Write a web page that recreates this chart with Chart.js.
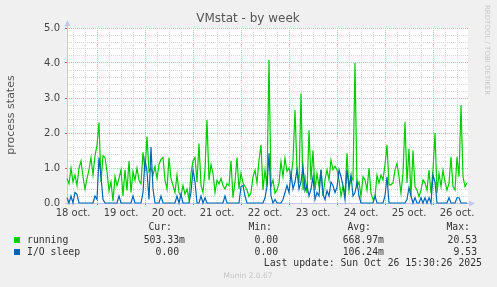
<!DOCTYPE html>
<html>
<head>
<meta charset="utf-8">
<script src="https://cdn.jsdelivr.net/npm/chart.js@4.4.1/dist/chart.umd.min.js"></script>
<style>
  html, body { margin: 0; padding: 0; background: #f0f0f0; }
  canvas { display: block; }
</style>
</head>
<body>
<canvas id="chart" width="497" height="287"></canvas>
<script>
// dati: un punto ogni ora, a partire dalle 09:00 del 18 ott.
const startHour = 9;
const dayLabels = ['18 oct.', '19 oct.', '20 oct.', '21 oct.', '22 oct.', '23 oct.', '24 oct.', '25 oct.', '26 oct.'];

const running = [
  0.7, 0.55, 1.0, 0.6, 0.8, 0.5, 1.0, 1.2, 0.75, 0.4,
  0.7, 0.95, 1.3, 0.8, 1.35, 1.65, 2.3, 0.6, 1.35, 1.3,
  0.9, 0.35, 0.6, 0.05, 0.75, 0.5, 0.7, 0.95, 0.2, 0.95,
  0.35, 1.2, 0.3, 0.9, 0.65, 1.0, 0.65, 0.55, 1.45, 0.9,
  1.9, 0.9, 1.0, 0.8, 1.05, 0.7, 1.1, 1.25, 1.3, 0.65,
  0.4, 1.3, 0.7, 0.5, 0.3, 0.8, 0.3, 0.2, 0.5, 0.25,
  0.4, 0.1, 0.85, 1.2, 1.3, 0.6, 1.7, 0.5, 0.3, 0.95,
  2.37, 0.65, 1.1, 0.85, 0.3, 0.65, 0.55, 0.7, 0.5, 0.4,
  0.55, 0.5, 1.2, 0.15, 0.6, 1.3, 0.4, 0.85, 0.57, 0.47,
  0.37, 0.18, 0.3, 0.75, 0.94, 0.57, 1.23, 1.66, 0.37, 0.94,
  0.47, 4.09, 0.47, 0.66, 0.28, 0.37, 0.57, 1.18, 0.75, 1.28,
  0.9, 1.0, 0.7, 1.23, 2.66, 0.94, 0.57, 3.13, 0.37, 0.75,
  0.28, 2.08, 0.66, 1.5, 0.37, 0.85, 0.47, 0.95, 0.2, 0.66,
  0.95, 0.66, 1.23, 0.95, 1.05, 0.95, 0.66, 0.2, 0.47, 0.28,
  1.42, 0.37, 0.75, 0.66, 4.0, 0.47, 0.6, 0.18, 0.75, 0.66,
  0.37, 1.0, 0.28, 0.1, 0.18, 0.8, 0.57, 0.8, 0.66, 1.1,
  1.66, 0.52, 0.52, 0.57, 0.94, 1.13, 0.75, 0.28, 0.85, 2.32,
  0.57, 1.55, 0.18, 1.5, 0.47, 0.37, 0.18, 0.37, 0.66, 0.57,
  0.37, 0.94, 0.28, 0.94, 2.0, 0.28, 0.85, 0.47, 0.94, 0.6,
  0.37, 0.57, 1.32, 0.47, 0.37, 1.32, 0.75, 2.8, 0.75, 0.47, 0.57
];

const ioSleep = [
  0.15, 0, 0.2, 0, 0.3, 0.25, 0, 0, 0, 0,
  0, 0, 0, 0, 0.2, 0.1, 1.3, 0.75, 0.1, 0,
  0, 0, 0, 0, 0, 0, 0.2, 0, 0, 0,
  0, 0, 0, 0.2, 0, 0, 0, 0, 0.3, 1.23,
  0.9, 0.1, 1.6, 0.4, 0, 0, 0, 0.2, 0, 0,
  0, 0, 0, 0, 0, 0.2, 0, 0.25, 0, 0,
  0, 0, 0.3, 0.95, 0.6, 0, 0, 0.2, 0, 0.15,
  0, 0, 0, 0, 0, 0, 0, 0, 0, 0.2,
  0, 0, 0, 0, 0, 0, 0, 0.47, 0.5, 0.2,
  0, 0, 0, 0, 0, 0, 0, 0, 0, 0.15,
  0.47, 1.42, 0.2, 0, 0.1, 0, 0, 0, 0.1, 0.3,
  0.5, 0.3, 0.85, 0.4, 0.6, 0.95, 0.4, 0.6, 1.04, 0.35,
  0.5, 0.2, 0.4, 0.75, 0.1, 0.3, 0.2, 0.95, 0.25, 0.1,
  0.35, 0.2, 0.6, 0.5, 0.3, 0.45, 0.95, 0.75, 0.5, 0.1,
  0.95, 0.45, 0.8, 0.2, 0.3, 0.6, 0.2, 0, 0, 0,
  0, 0, 0, 0, 0.2, 0, 0, 0, 0, 0.2,
  0.75, 0, 0, 0, 0, 0, 0, 0, 0, 0,
  0.1, 0.45, 0.2, 0, 0.15, 0, 0, 0.15, 0, 0.15,
  0, 0.15, 0, 0.8, 0.6, 0, 0, 0, 0, 0,
  0, 0.15, 0, 0, 0, 0.15, 0.15, 0, 0, 0, 0
];

// legenda
const legendNames = ['running', 'I/O sleep'];
const legendColors = ['#00CC00', '#0066B3'];
const curValues = ['503.33m', '0.00'];
const minValues = ['0.00', '0.00'];
const avgValues = ['668.97m', '106.24m'];
const maxValues = ['20.53', '9.53'];
const lastUpdate = 'Last update: Sun Oct 26 15:30:26 2025';

const RED_GRID = '#EDA8A8';
const GRAY_GRID = '#D6D6D6';
const AXIS = '#C4C8F0';

// griglia x ogni 6 ore, linee rosse a mezzanotte, etichette a mezzogiorno
const xGrid = [];
for (let h = 12; h <= 204; h += 6) xGrid.push(h);
const yGrid = [];
for (let k = 0; k <= 25; k++) yGrid.push(k / 5);

function isInt(v) { return Math.abs(v - Math.round(v)) < 1e-6; }

// FUNZIONE CHE DISEGNA TESTI, ASSI E LEGENDA ALLA MANIERA DI MUNIN
const muninDecor = {
  id: 'muninDecor',
  beforeDraw(chart) {
    const a = chart.chartArea;
    const c = chart.ctx;
    c.save();
    c.fillStyle = '#ffffff';
    c.fillRect(a.left, a.top, a.right - a.left, a.bottom - a.top);
    c.restore();
  },
  beforeDatasetsDraw(chart) {
    const a = chart.chartArea;
    const c = chart.ctx;
    c.save();
    c.strokeStyle = AXIS;
    c.fillStyle = AXIS;
    c.lineWidth = 1;
    c.beginPath();
    c.moveTo(a.left + 0.5, a.bottom + 2);
    c.lineTo(a.left + 0.5, a.top - 6);
    c.moveTo(a.left - 2, a.bottom + 0.5);
    c.lineTo(a.right + 2, a.bottom + 0.5);
    c.stroke();
    // frecce
    c.beginPath();
    c.moveTo(a.left - 2.5, a.top - 2);
    c.lineTo(a.left + 3.5, a.top - 2);
    c.lineTo(a.left + 0.5, a.top - 8);
    c.closePath();
    c.fill();
    c.beginPath();
    c.moveTo(a.right + 1, a.bottom - 2.5);
    c.lineTo(a.right + 1, a.bottom + 3.5);
    c.lineTo(a.right + 7, a.bottom + 0.5);
    c.closePath();
    c.fill();
    c.restore();
  },
  afterDraw(chart) {
    const c = chart.ctx;
    c.save();
    // titolo
    c.fillStyle = '#555555';
    c.font = '12px "DejaVu Sans"';
    c.textAlign = 'center';
    c.textBaseline = 'middle';
    c.fillText('VMstat - by week', 248, 19);

    // etichetta asse y
    c.save();
    c.translate(11, 115);
    c.rotate(-Math.PI / 2);
    c.font = '11px "DejaVu Sans"';
    c.fillText('process states', 0, 0);
    c.restore();

    // scritta verticale a destra
    c.save();
    c.translate(487, 5);
    c.rotate(Math.PI / 2);
    c.font = '7px "DejaVu Sans"';
    c.fillStyle = '#C8C8C8';
    c.textAlign = 'left';
    c.fillText('RRDTOOL / TOBI OETIKER', 0, 0);
    c.restore();

    // legenda
    c.font = '9.8px "DejaVu Sans Mono"';
    c.fillStyle = '#333333';
    c.textAlign = 'right';
    c.fillText('Cur:', 172, 227);
    c.fillText('Min:', 272, 227);
    c.fillText('Avg:', 371, 227);
    c.fillText('Max:', 470, 227);
    function val(s) { return s.endsWith('m') ? s : s + ' '; }
    legendNames.forEach((name, i) => {
      const y = 240 + i * 12;
      c.fillStyle = legendColors[i];
      c.fillRect(14, y - 3, 6, 6);
      c.fillStyle = '#333333';
      c.textAlign = 'left';
      c.fillText(name, 27, y);
      c.textAlign = 'right';
      c.fillText(val(curValues[i]), 185, y);
      c.fillText(val(minValues[i]), 284, y);
      c.fillText(val(avgValues[i]), 384, y);
      c.fillText(val(maxValues[i]), 483, y);
    });
    c.fillText(lastUpdate, 482, 263.5);

    c.textAlign = 'center';
    c.fillStyle = '#C4C4C4';
    c.font = '7.5px "DejaVu Sans"';
    c.fillText('Munin 2.0.67', 248, 276);
    c.restore();
  }
};

let ctx = document.getElementById('chart');

const myChart = new Chart(ctx, {
  type: 'line',
  data: {
    datasets: [{
      label: 'running',
      data: running.map((v, i) => ({ x: startHour + i, y: v })),
      borderColor: '#00CC00',
      borderWidth: 1.2,
      pointRadius: 0,
      tension: 0,
      order: 1
    }, {
      label: 'I/O sleep',
      data: ioSleep.map((v, i) => ({ x: startHour + i, y: v })),
      borderColor: '#0066B3',
      borderWidth: 1.2,
      pointRadius: 0,
      tension: 0,
      order: 0
    }]
  },
  options: {
    responsive: false,
    animation: false,
    devicePixelRatio: 1,
    clip: 3,
    layout: { padding: { left: 0, right: 29, top: 28, bottom: 0 } },
    plugins: { legend: { display: false }, tooltip: { enabled: false } },
    scales: {
      x: {
        type: 'linear',
        min: startHour,
        max: startHour + 200.5,
        afterFit(s) { s.height = 84; },
        afterBuildTicks(s) { s.ticks = xGrid.map(v => ({ value: v })); },
        grid: {
          color: c => (c.tick && c.tick.value % 24 === 0) ? RED_GRID : GRAY_GRID,
          tickColor: c => (c.tick && c.tick.value % 24 === 0) ? '#E06060' : 'transparent',
          tickLength: 2,
          lineWidth: 1
        },
        border: { display: false, dash: [1, 1] },
        ticks: {
          autoSkip: false,
          maxRotation: 0,
          padding: 2,
          color: '#444444',
          font: { family: 'DejaVu Sans', size: 10 },
          callback: v => (v % 24 === 12) ? dayLabels[Math.floor(v / 24)] : ''
        }
      },
      y: {
        min: 0,
        max: 5,
        afterFit(s) { s.width = 67; },
        afterBuildTicks(s) { s.ticks = yGrid.map(v => ({ value: v })); },
        grid: {
          color: c => (c.tick && isInt(c.tick.value)) ? RED_GRID : GRAY_GRID,
          tickColor: c => (c.tick && isInt(c.tick.value)) ? '#E06060' : 'transparent',
          tickLength: 2,
          lineWidth: 1
        },
        border: { display: false, dash: [1, 1] },
        ticks: {
          autoSkip: false,
          padding: 5,
          color: '#444444',
          font: { family: 'DejaVu Sans', size: 10 },
          callback: v => isInt(v) ? v.toFixed(1) : ''
        }
      }
    }
  },
  plugins: [muninDecor]
});
</script>
</body>
</html>
